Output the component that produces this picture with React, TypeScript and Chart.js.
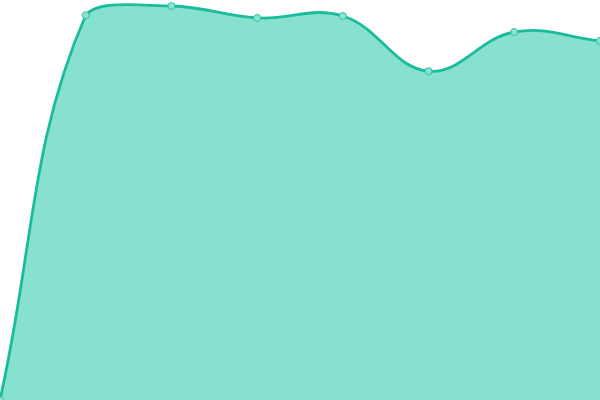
import React, { useEffect, useRef } from 'react';
import { Chart, registerables } from 'chart.js';
Chart.register(...registerables);

// 8 points spread evenly across the width, no axes shown
const labels = ['1', '2', '3', '4', '5', '6', '7', '8'];
const values = [0, 96.2, 98.5, 95.5, 96, 82.2, 92, 89.8];

const App = () => {
  const canvasRef = useRef<HTMLCanvasElement | null>(null);

  useEffect(() => {
    if (!canvasRef.current) return;
    const chart = new Chart(canvasRef.current, {
      type: 'line',
      data: {
        labels,
        datasets: [{
          data: values,
          borderColor: '#1abc9c',
          backgroundColor: '#88e0cf',
          borderWidth: 2.8,
          fill: true,
          tension: 0.4,
          pointRadius: 3.5,
          pointBackgroundColor: '#8de3d2',
          pointBorderColor: '#2cc3a4',
          pointBorderWidth: 1,
        }]
      },
      options: {
        animation: false,
        responsive: true,
        maintainAspectRatio: false,
        layout: { padding: 0, autoPadding: false },
        scales: {
          x: { display: false, offset: false },
          y: { display: false, min: 0, max: 100 }
        },
        plugins: {
          legend: { display: false },
          tooltip: { enabled: false }
        }
      }
    });
    return () => chart.destroy();
  }, []);

  return (
    <div style={{ position: 'fixed', left: 0, top: 0, width: '600px', height: '400px' }}>
      <canvas ref={canvasRef} />
    </div>
  );
};

export default App;
